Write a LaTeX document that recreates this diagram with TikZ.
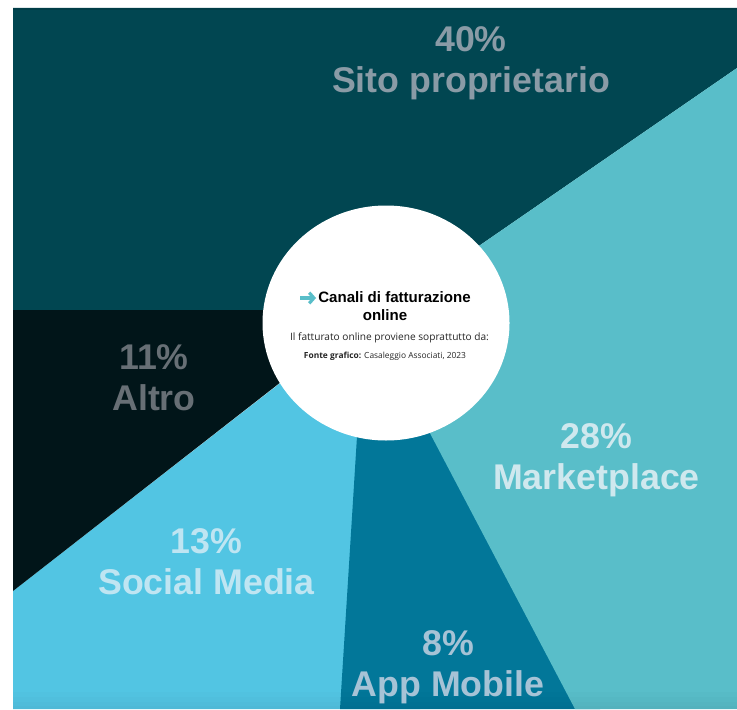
\documentclass[tikz,border=0pt]{standalone}
\usepackage{fontspec}
\setmainfont{Liberation Sans}
\newfontfamily\smallfont{Open Sans}
\usetikzlibrary{arrows.meta}
\definecolor{sito}{HTML}{014651}
\definecolor{market}{HTML}{59BEC9}
\definecolor{altro}{HTML}{011519}
\definecolor{social}{HTML}{52C5E3}
\definecolor{appm}{HTML}{027799}
\definecolor{tsito}{HTML}{8A9BA6}
\definecolor{taltro}{HTML}{676F75}
\definecolor{tmarket}{HTML}{CFE8EE}
\definecolor{tsocial}{HTML}{BFE5F2}
\definecolor{tapp}{HTML}{A6C3D6}
\tikzset{
  wedge/.style={draw=none},
  pct/.style={font=\bfseries\fontsize{26.8}{30.8}\selectfont, align=center, inner sep=0pt},
}
\begin{document}
\begin{tikzpicture}[x=0.75pt,y=-0.75pt]
\useasboundingbox (0,0) rectangle (737,709);
\fill[white] (0,0) rectangle (737,709);
\fill[wedge,sito] (13,8) -- (737,8) -- (737,68) -- (386,310) -- (13,310) -- cycle;
\fill[wedge,social] (13,591) -- (360,321) -- (420,321) -- (420,709) -- (13,709) -- cycle;
\fill[wedge,altro] (13,310) -- (386,310) -- (386,300) -- (13,591) -- cycle;
\fill[wedge,appm] (362.4,350) -- (420,350) -- (600,709) -- (340,709) -- cycle;
\fill[wedge,market] (737,68) -- (737,709) -- (575,709) -- (402,380) -- (386,310) -- cycle;
\foreach \yy/\hh in {692/17,697/12,702/7,706/3}{
  \fill[black,opacity=0.012] (13,\yy) rectangle (737,709);
}
\fill[black,opacity=0.12] (13,8) rectangle (737,10);
\node[circle,fill=white,inner sep=0pt,minimum size=0pt] (c) at (386,323) {};
\fill[white] (c) ellipse [x radius=123.5, y radius=117.5];
\node[pct,text=tsito] (n40) at (471,63) {40\%\\Sito proprietario};
\node[pct,text=taltro] (n11) at (154,378) {11\%\\Altro};
\node[pct,text=tmarket] (n28) at (596.5,460) {28\%\\Marketplace};
\node[pct,text=tsocial] (n13) at (206.5,562) {13\%\\Social Media};
\node[pct,text=tapp] (n8) at (448,667) {8\%\\App Mobile};
\node[inner sep=0pt,font=\bfseries\fontsize{11.3}{13.5}\selectfont,align=center,text=black] (t1) at (394.5,297) {Canali di fatturazione};
\node[inner sep=0pt,font=\bfseries\fontsize{11.3}{13.5}\selectfont,text=black] (t2) at (385,315) {online};
\node[inner sep=0pt,font=\smallfont\fontsize{7.6}{9}\selectfont,text=black!85] (t3) at (389.5,338) {Il fatturato online proviene soprattutto da:};
\node[inner sep=0pt,font=\smallfont\fontsize{6.3}{7}\selectfont,text=black!85] (t4) at (385,356) {{\bfseries Fonte grafico:} Casaleggio Associati, 2023};
\coordinate (a0) at (300,298);
\coordinate (a1) at (316,298);
\draw[market,line width=2.4pt,-{Straight Barb[length=3.5pt,width=8pt]}] (a0) -- (a1);
\end{tikzpicture}
\end{document}
